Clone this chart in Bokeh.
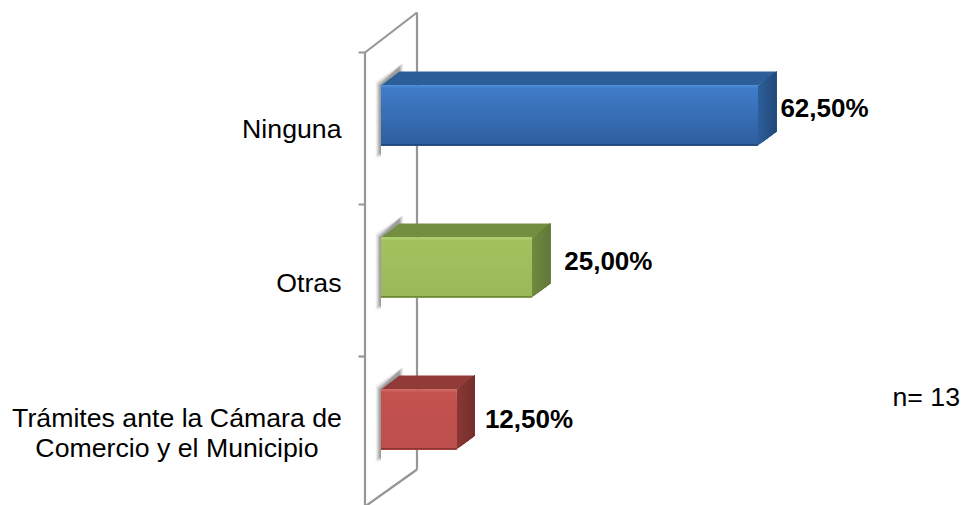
from bokeh.plotting import figure
from bokeh.embed import file_html
from bokeh.resources import INLINE
from bokeh.core.properties import value

# ---- data ----
categories = ["Ninguna", "Otras", "Trámites ante la Cámara de\nComercio y el Municipio"]
percentages = [62.5, 25.0, 12.5]
value_labels = ["62,50%", "25,00%", "12,50%"]
note = "n= 13"

# ---- styles ----
front_top = ["#3F7DCB", "#A2C25E", "#C4524F"]
front_bot = ["#2F5F9E", "#9ABA59", "#BC4F4C"]
top_col = ["#2C5E99", "#748E40", "#913B38"]
side_a = ["#2C5E99", "#6F8A3C", "#8A3734"]
side_b = ["#234A7C", "#63793A", "#74302D"]
edge_hi = ["#4686D6", "#AECF6A", "#D0625F"]
edge_lo = ["#234A7C", "#6F8A3C", "#8A3734"]

W, H = 963, 505
X0_PX, PX_PER_PCT = 380.5, 6.03
Y0_PX, PX_PER_ROW = 115.0, 152.0
BAR_PX, DX_PX, DY_PX = 60.0, 18.5, 14.0
VALUE_GAP_PX = [5, 15, 11]
VALUE_BASE_PX = [107, 260, 418]


def xd(px):
    return (px - X0_PX) / PX_PER_PCT


def yd(py):
    return (py - Y0_PX) / PX_PER_ROW


def mix(a, b, t):
    ca = [int(a[j:j + 2], 16) for j in (1, 3, 5)]
    cb = [int(b[j:j + 2], 16) for j in (1, 3, 5)]
    return "#%02x%02x%02x" % tuple(round(u + (v - u) * t) for u, v in zip(ca, cb))


p = figure(width=W, height=H, output_backend="svg", toolbar_location=None,
           x_range=(xd(0), xd(W)), y_range=(yd(H), yd(0)),
           min_border=0, outline_line_color=None, background_fill_color="white",
           border_fill_color="white")
p.axis.visible = False
p.grid.visible = False

# ---- 3D wall ----
WALL = "#969696"
p.line([xd(364.5), xd(364.5)], [yd(52), yd(505)], line_color=WALL, line_width=2.2)
p.line([xd(416.5), xd(416.5)], [yd(12), yd(469)], line_color=WALL, line_width=2.2)
p.line([xd(364.5), xd(416.5)], [yd(52), yd(12)], line_color=WALL, line_width=2.2)
p.line([xd(366), xd(416.5)], [yd(505), yd(469)], line_color=WALL, line_width=2.2)
for py in (52, 204, 356):
    p.line([xd(358), xd(364.5)], [yd(py), yd(py)], line_color=WALL, line_width=2.2)

# ---- bars ----
for i, pct in enumerate(percentages):
    half = BAR_PX / 2 / PX_PER_ROW
    top, bot = i - half, i + half
    dx = DX_PX / PX_PER_PCT
    dy = DY_PX / PX_PER_ROW
    ux, uy = 1 / PX_PER_PCT, 1 / PX_PER_ROW

    # soft shadow on the wall
    for grow, alpha in [(4, .07), (3, .11), (2, .16), (1, .22), (0, .28)]:
        gx, gy = grow * ux, grow * uy
        p.patch([-1.5 * ux - gx, -1.5 * ux - gx, dx + gx, dx + gx, 0, 0],
                [bot + 8 * uy + gy, top - gy, top - dy - 5 * uy - gy,
                 top - dy + 6 * uy, top, bot + 8 * uy + gy],
                fill_color="#5E5E5E", fill_alpha=alpha, line_color=None)

    # top face
    p.patch([0, dx, pct + dx, pct], [top, top - dy, top - dy, top],
            fill_color=top_col[i], line_color=None)

    # side face: horizontal shading, painted back over front
    N = 10
    for k in range(N):
        a = k / N
        p.patch([pct + a * dx, pct + dx, pct + dx, pct + a * dx],
                [top - a * dy, top - dy, bot - dy, bot - a * dy],
                fill_color=mix(side_a[i], side_b[i], k / (N - 1)), line_color=None)

    # front face: vertical shading, each strip painted over the previous
    N = 24
    h = (bot - top) / N
    for k in range(N):
        p.quad(left=0, right=pct, top=top + k * h, bottom=bot,
               fill_color=mix(front_top[i], front_bot[i], k / (N - 1)), line_color=None)

    # lit top edge, dark bottom edge
    p.quad(left=0, right=pct, top=top, bottom=top + 2 * uy,
           fill_color=edge_hi[i], line_color=None)
    p.quad(left=0, right=pct, top=bot - 1.5 * uy, bottom=bot,
           fill_color=edge_lo[i], line_color=None)

    # value label
    p.text([pct + dx + (VALUE_GAP_PX[i] - 1) * ux], [yd(VALUE_BASE_PX[i])], text=[value_labels[i]],
           text_font=value("Liberation Sans"), text_font_size="26px", text_font_style="bold",
           text_color="black", text_align="left", text_baseline="alphabetic")

# ---- category labels ----
TXT = dict(text_font=value("Liberation Sans"), text_font_size="26.7px", text_color="black",
           text_baseline="alphabetic")
p.text([xd(341)], [yd(128)], text=[categories[0]], text_align="right", **TXT)
p.text([xd(341)], [yd(282)], text=[categories[1]], text_align="right", **TXT)
lines = categories[2].split("\n")
p.text([xd(176.5)], [yd(417)], text=[lines[0]], text_align="center", **TXT)
p.text([xd(176.5)], [yd(447)], text=[lines[1]], text_align="center", **TXT)
p.text([xd(959.5)], [yd(396)], text=[note], text_align="right", **TXT)

open("out.html", "w").write(file_html(p, INLINE))
